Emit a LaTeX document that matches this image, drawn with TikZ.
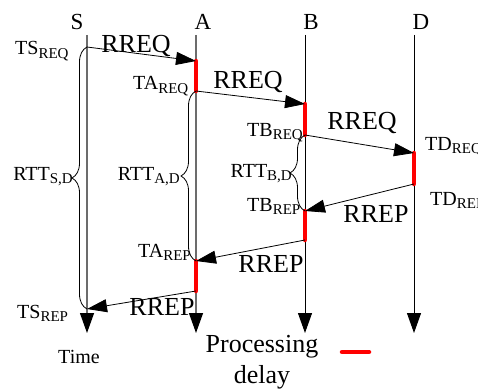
\documentclass[tikz,border=0pt]{standalone}
\usepackage{fontspec}
\setmainfont{Liberation Serif}
\usetikzlibrary{arrows.meta,decorations.pathreplacing}

% label with a lowered, smaller subscript
\newcommand{\tlab}[2]{#1\raisebox{-3.5pt}{\fontsize{15}{15}\selectfont #2}}

\tikzset{
  lifeline/.style={line width=1.3pt, draw=gray!85!black, -{Triangle[length=20pt,width=14pt,color=black,fill=black]}},
  lifelineB/.style={line width=1pt, draw=black, -{Triangle[length=20pt,width=14pt]}},
  msg/.style={line width=0.8pt, -{Triangle[length=20pt,width=13pt]}},
  delay/.style={line width=4.5pt, red, line cap=round},
  rttbrace/.style={decorate, decoration={brace, amplitude=15pt}, line width=0.8pt},
  head/.style={font=\fontsize{23}{23}\selectfont, anchor=base},
  big/.style={font=\fontsize{26}{26}\selectfont, anchor=base},
  stamp/.style={font=\fontsize{20}{20}\selectfont, anchor=base, inner sep=0pt},
}

\begin{document}
\begin{tikzpicture}[x=1pt,y=-1pt]
\useasboundingbox (0,0) rectangle (478,390);

% process names
\node[head] (nS) at (77,30) {S};
\node[head] (nA) at (203,30) {A};
\node[head] (nB) at (311,30) {B};
\node[head] (nD) at (421,30) {D};

% lifeline ends
\coordinate (s0) at (87,35);  \coordinate (s1) at (87,333);
\coordinate (a0) at (196,35); \coordinate (a1) at (196,333);
\coordinate (b0) at (305,35); \coordinate (b1) at (305,333);
\coordinate (d0) at (414,35); \coordinate (d1) at (414,333);

\draw[lifeline] (s0) -- (s1);
\draw[lifeline] (a0) -- (a1);
\draw[lifelineB] (b0) -- (b1);
\draw[lifelineB] (d0) -- (d1);

% event points on the lifelines
\coordinate (sReq) at (87,47);
\coordinate (aIn)  at (196,61);  \coordinate (aOut) at (196,91);
\coordinate (bIn)  at (305,104); \coordinate (bOut) at (305,135);
\coordinate (dIn)  at (414,153); \coordinate (dOut) at (414,184);
\coordinate (bRin) at (305,211); \coordinate (bRout) at (305,240);
\coordinate (aRin) at (196,261); \coordinate (aRout) at (196,291);
\coordinate (sRep) at (87,309);

% processing delays
\draw[delay] (aIn) -- (aOut);
\draw[delay] (bIn) -- (bOut);
\draw[delay] (dIn) -- (dOut);
\draw[delay] (bRin) -- (bRout);
\draw[delay] (aRin) -- (aRout);

% messages
\draw[msg] (sReq) -- (aIn);
\draw[msg] (aOut) -- (bIn);
\draw[msg] (bOut) -- (dIn);
\draw[msg] (dOut) -- (bRin);
\draw[msg] (bRout) -- (aRin);
\draw[msg] (aRout) -- (sRep);

% round-trip braces
\draw[rttbrace] (sRep) -- (sReq);
\draw[rttbrace] (aRin) -- (aOut);
\draw[rttbrace] (bRin) -- (bOut);

% message labels
\node[big] (m1) at (136,53) {RREQ};
\node[big] (m2) at (248,89) {RREQ};
\node[big] (m3) at (362,129) {RREQ};
\node[big] (m4) at (376,222) {RREP};
\node[big] (m5) at (271,272) {RREP};
\node[big] (m6) at (162,315) {RREP};

% time stamps
\node[stamp, anchor=base west] (tsreq) at (15,55) {\tlab{TS}{REQ}};
\node[stamp, anchor=base west] (tareq) at (133,90) {\tlab{TA}{REQ}};
\node[stamp, anchor=base west] (tbreq) at (247,136) {\tlab{TB}{REQ}};
\node[stamp, anchor=base west] (tdreq) at (425,150) {\tlab{TD}{REQ}};
\node[stamp, anchor=base west] (tdrep) at (430,205) {\tlab{TD}{REP}};
\node[stamp, anchor=base west] (tbrep) at (247,211) {\tlab{TB}{REP}};
\node[stamp, anchor=base west] (tarep) at (138,257) {\tlab{TA}{REP}};
\node[stamp, anchor=base west] (tsrep) at (17,318) {\tlab{TS}{REP}};

% round-trip times
\node[stamp, anchor=base east] (rsd) at (73,180) {\tlab{RTT}{S,D}};
\node[stamp, anchor=base east] (rad) at (180,180) {\tlab{RTT}{A,D}};
\node[stamp, anchor=base east] (rbd) at (292,177) {\tlab{RTT}{B,D}};

% time axis and legend
\node[stamp] (time) at (79,363) {Time};
\node[big, anchor=base] (proc) at (262,352) {Processing};
\node[big, anchor=base] (dly) at (262,383) {delay};
\coordinate (lg0) at (342,352);
\coordinate (lg1) at (369,352);
\draw[delay] (lg0) -- (lg1);
\end{tikzpicture}
\end{document}
